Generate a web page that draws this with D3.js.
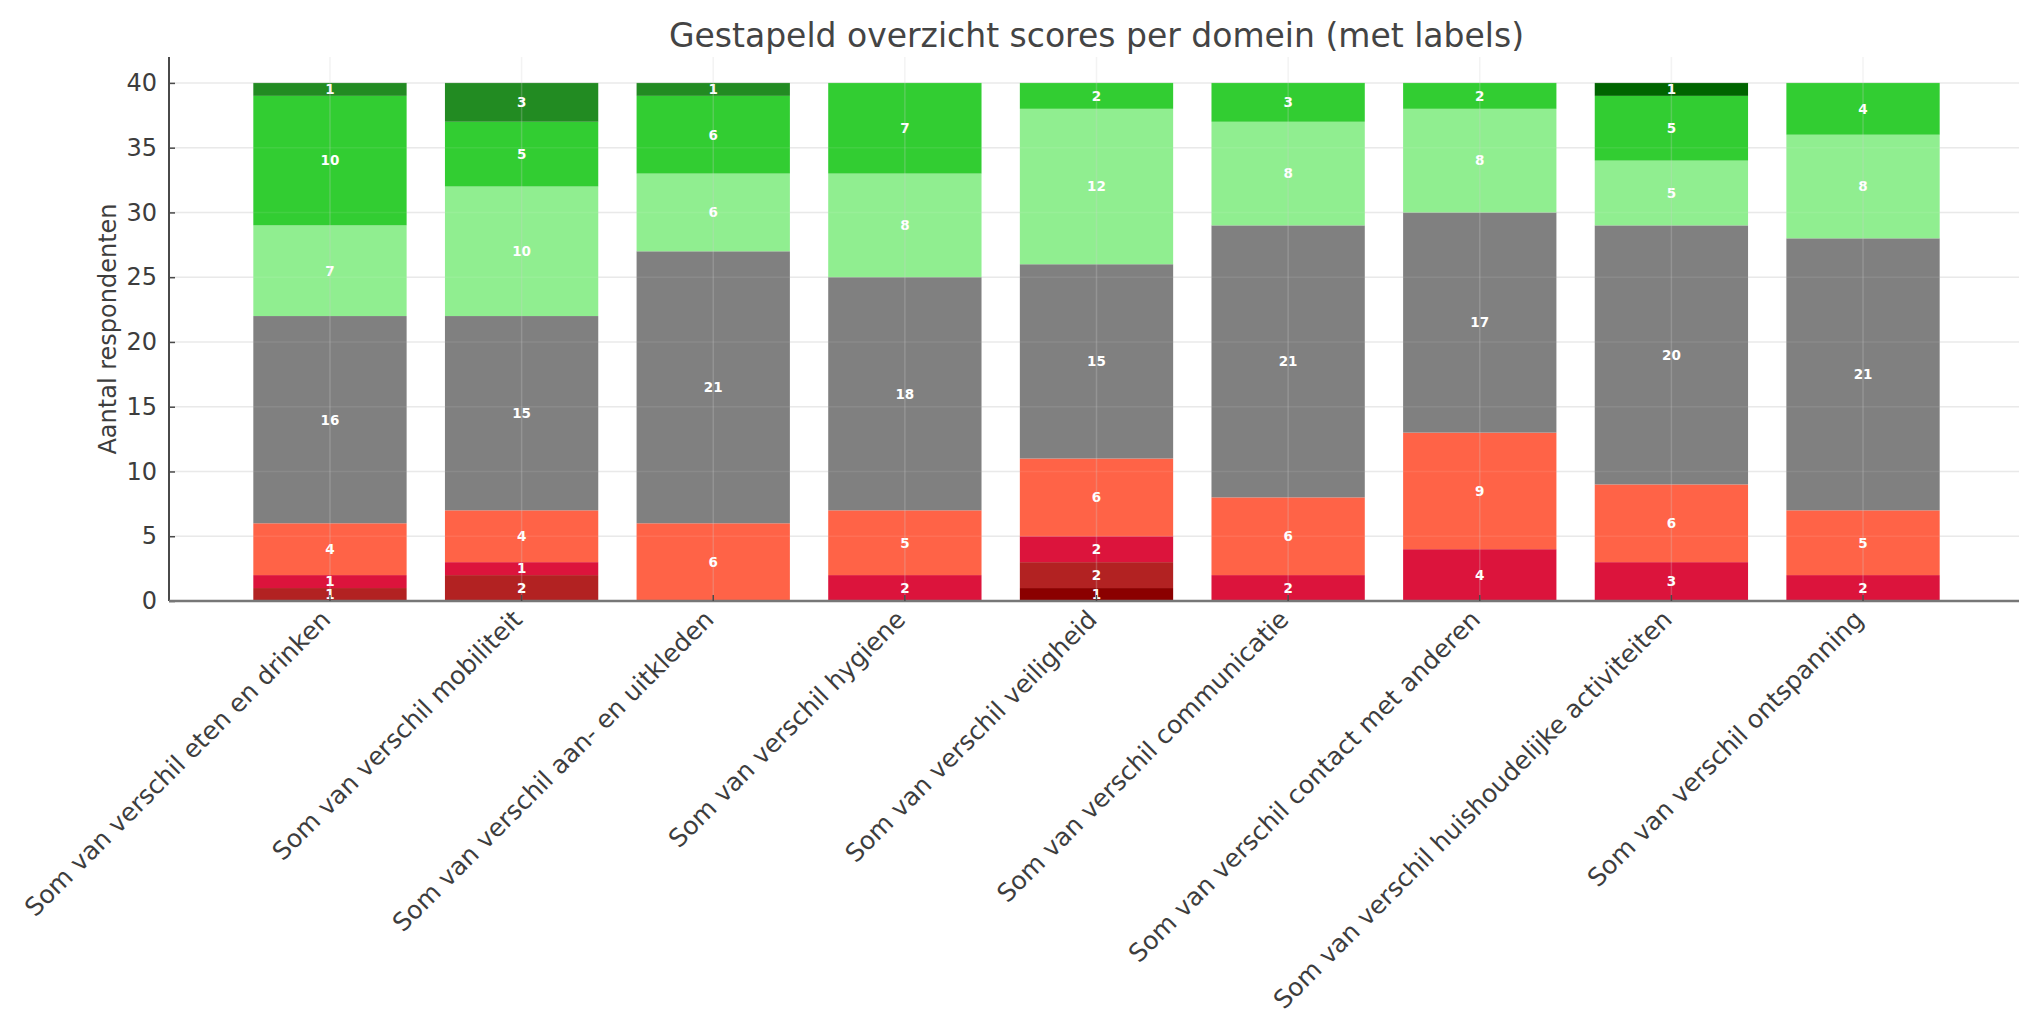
<!DOCTYPE html>
<html>
<head>
<meta charset="utf-8">
<script src="https://cdn.jsdelivr.net/npm/d3@7"></script>
<style>
  html, body { margin: 0; padding: 0; background: #ffffff; }
  svg { display: block; }
</style>
</head>
<body>
<svg id="chart" width="2019" height="1018"></svg>
<script>
// ---- data ----
const categories = [
  "Som van verschil eten en drinken",
  "Som van verschil mobiliteit",
  "Som van verschil aan- en uitkleden",
  "Som van verschil hygiene",
  "Som van verschil veiligheid",
  "Som van verschil communicatie",
  "Som van verschil contact met anderen",
  "Som van verschil huishoudelijke activiteiten",
  "Som van verschil ontspanning"
];
const scoreLevels = ["-4", "-3", "-2", "-1", "0", "1", "2", "3", "4"];
const levelColors = ["#8B0000", "#B22222", "#DC143C", "#FF6347", "#808080", "#90EE90", "#32CD32", "#228B22", "#006400"];
const scoreMin4 = [0, 0, 0, 0, 1, 0, 0, 0, 0];
const scoreMin3 = [1, 2, 0, 0, 2, 0, 0, 0, 0];
const scoreMin2 = [1, 1, 0, 2, 2, 2, 4, 3, 2];
const scoreMin1 = [4, 4, 6, 5, 6, 6, 9, 6, 5];
const score0    = [16, 15, 21, 18, 15, 21, 17, 20, 21];
const scorePlus1 = [7, 10, 6, 8, 12, 8, 8, 5, 8];
const scorePlus2 = [10, 5, 6, 7, 2, 3, 2, 5, 4];
const scorePlus3 = [1, 3, 1, 0, 0, 0, 0, 0, 0];
const scorePlus4 = [0, 0, 0, 0, 0, 0, 0, 1, 0];
const yTicks = [0, 5, 10, 15, 20, 25, 30, 35, 40];
const titleText = "Gestapeld overzicht scores per domein (met labels)";
const yLabelText = "Aantal respondenten";

const seriesValues = [scoreMin4, scoreMin3, scoreMin2, scoreMin1, score0, scorePlus1, scorePlus2, scorePlus3, scorePlus4];
const table = categories.map((c, i) => {
  const row = { cat: c };
  scoreLevels.forEach((k, j) => { row[k] = seriesValues[j][i]; });
  return row;
});

// ---- layout ----
const svg = d3.select("#chart");
const pLeft = 169, pRight = 2024, pTop = 57, pBottom = 601;
const x = d3.scaleBand().domain(categories).range([pLeft, pRight]).paddingInner(0.2).paddingOuter(0.44);
const y = d3.scaleLinear().domain([0, 42]).range([pBottom, pTop]);
const color = d3.scaleOrdinal().domain(scoreLevels).range(levelColors);
const textCol = "#3d3d3d";
const font = "DejaVu Sans, sans-serif";

// horizontal grid (behind)
svg.append("g").selectAll("line").data(yTicks).join("line")
  .attr("x1", pLeft).attr("x2", pRight)
  .attr("y1", d => y(d)).attr("y2", d => y(d))
  .attr("stroke", "#e8e8e8").attr("stroke-width", 1.5);

// bars
const stacked = d3.stack().keys(scoreLevels)(table);
const layers = svg.append("g").selectAll("g").data(stacked).join("g")
  .attr("fill", d => color(d.key));
layers.selectAll("rect").data(d => d.filter(s => s[1] - s[0] > 0)).join("rect")
  .attr("x", d => x(d.data.cat))
  .attr("width", x.bandwidth())
  .attr("y", d => y(d[1]))
  .attr("height", d => y(d[0]) - y(d[1]));

// grid over bars (faint)
svg.append("g").selectAll("line").data(yTicks).join("line")
  .attr("x1", pLeft).attr("x2", pRight)
  .attr("y1", d => y(d)).attr("y2", d => y(d))
  .attr("stroke", "#ffffff").attr("stroke-opacity", 0.08).attr("stroke-width", 1.5);
svg.append("g").selectAll("line").data(categories).join("line")
  .attr("x1", d => x(d) + x.bandwidth() / 2).attr("x2", d => x(d) + x.bandwidth() / 2)
  .attr("y1", pTop).attr("y2", pBottom)
  .attr("stroke", "#d0d0d0").attr("stroke-opacity", 0.25).attr("stroke-width", 1.5);

// value labels
layers.selectAll("text").data(d => d.filter(s => s[1] - s[0] > 0)).join("text")
  .attr("x", d => x(d.data.cat) + x.bandwidth() / 2)
  .attr("y", d => y((d[0] + d[1]) / 2))
  .attr("dy", "0.36em")
  .attr("text-anchor", "middle")
  .attr("fill", "#ffffff")
  .attr("font-family", font).attr("font-weight", "bold").attr("font-size", 13.5)
  .text(d => d[1] - d[0]);

// y axis
const yAxis = d3.axisLeft(y).tickValues(yTicks).tickSize(-6).tickPadding(12);
const gy = svg.append("g").attr("transform", `translate(${pLeft},0)`).call(yAxis);
gy.select(".domain").attr("d", `M0,${pTop}V${pBottom}`).attr("stroke", "#4a4a4a").attr("stroke-width", 2);
gy.selectAll(".tick line").attr("stroke", "#4a4a4a").attr("stroke-width", 1.5);
gy.selectAll(".tick text").attr("font-family", font).attr("font-size", 24).attr("fill", textCol);

// x axis
const xAxis = d3.axisBottom(x).tickSize(-6).tickFormat("");
const gx = svg.append("g").attr("transform", `translate(0,${pBottom})`).call(xAxis);
gx.select(".domain").attr("d", `M${pLeft},0H${pRight}`).attr("stroke", "#777777").attr("stroke-width", 2.5);
gx.selectAll(".tick line").attr("stroke", "#4a4a4a").attr("stroke-width", 1.5);

// x tick labels rotated
svg.append("g").selectAll("text").data(categories).join("text")
  .attr("transform", d => `translate(${x(d) + x.bandwidth() / 2 + 2},${pBottom + 20}) rotate(-45)`)
  .attr("text-anchor", "end")
  .attr("font-family", font).attr("font-size", 25).attr("fill", textCol)
  .text(d => d);

// y label
svg.append("text")
  .attr("transform", `translate(116,${(pTop + pBottom) / 2}) rotate(-90)`)
  .attr("text-anchor", "middle")
  .attr("font-family", font).attr("font-size", 24).attr("fill", textCol)
  .text(yLabelText);

// title
svg.append("text")
  .attr("x", (pLeft + pRight) / 2).attr("y", 47)
  .attr("text-anchor", "middle")
  .attr("font-family", font).attr("font-size", 33).attr("fill", "#444444")
  .text(titleText);
</script>
</body>
</html>
